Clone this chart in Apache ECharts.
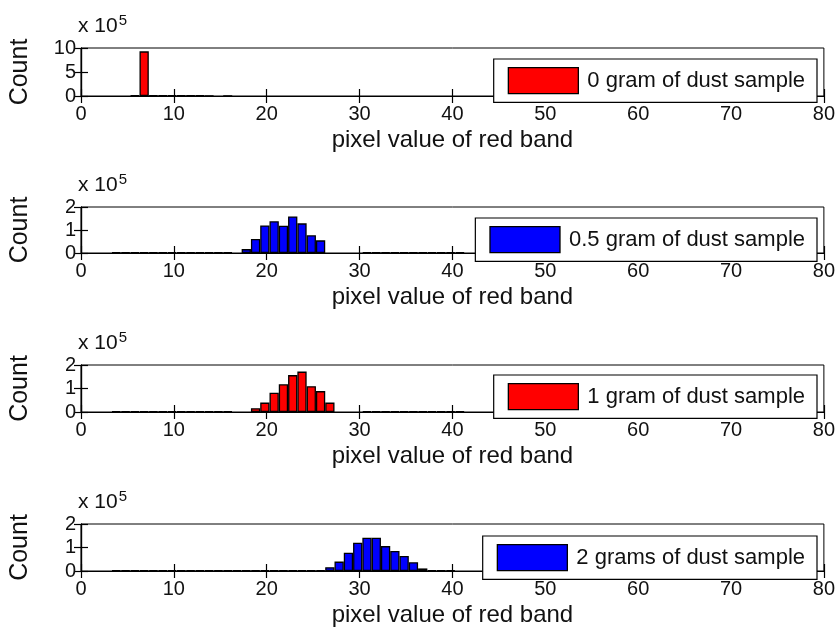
<!DOCTYPE html>
<html>
<head>
<meta charset="utf-8">
<script src="https://cdn.jsdelivr.net/npm/echarts@6/dist/echarts.min.js"></script>
<style>
  html, body { margin: 0; padding: 0; background: #fff; }
  #chart { width: 838px; height: 637px; }
</style>
</head>
<body>
<div id="chart"></div>
<script>
//--------------------- Data (counts in units of 10^5) ---------------------------//
const xTicks = { min: 0, max: 80, interval: 10 };

const names = [
  '0 gram of dust sample',
  '0.5 gram of dust sample',
  '1 gram of dust sample',
  '2 grams of dust sample'
];

// 0 gram
const bins0 = [5.8, 6.8, 7.8, 8.8, 9.8, 10.8, 11.8, 12.8, 13.8, 15.8];
const counts0 = [0.15, 9.3, 0.15, 0.12, 0.1, 0.12, 0.12, 0.1, 0.08, 0.06];

// 0.5 gram
const bins05 = [3.8, 4.8, 5.8, 6.8, 7.8, 8.8, 9.8, 10.8, 11.8, 12.8, 13.8, 14.8, 15.8,
  17.8, 18.8, 19.8, 20.8, 21.8, 22.8, 23.8, 24.8, 25.8,
  30.8, 31.8, 32.8, 33.8, 34.8, 35.8, 36.8, 37.8, 38.8, 39.8, 40.8];
const counts05 = [0.03, 0.03, 0.03, 0.03, 0.03, 0.03, 0.03, 0.03, 0.03, 0.03, 0.03, 0.03, 0.03,
  0.17, 0.61, 1.2, 1.38, 1.19, 1.59, 1.29, 0.77, 0.55,
  0.03, 0.03, 0.03, 0.03, 0.03, 0.03, 0.03, 0.03, 0.03, 0.03, 0.03];

// 1 gram
const bins1 = [3.8, 4.8, 5.8, 6.8, 7.8, 8.8, 9.8, 10.8, 11.8, 12.8, 13.8, 14.8, 15.8,
  18.8, 19.8, 20.8, 21.8, 22.8, 23.8, 24.8, 25.8, 26.8,
  30.8, 31.8, 32.8, 33.8, 34.8, 35.8, 36.8, 37.8, 38.8, 39.8, 40.8];
const counts1 = [0.03, 0.03, 0.03, 0.03, 0.03, 0.03, 0.03, 0.03, 0.03, 0.03, 0.03, 0.03, 0.03,
  0.16, 0.4, 0.82, 1.18, 1.57, 1.72, 1.1, 0.89, 0.4,
  0.03, 0.03, 0.03, 0.03, 0.03, 0.03, 0.03, 0.03, 0.03, 0.03, 0.03];

// 2 grams
const bins2 = [3.8, 4.8, 5.8, 6.8, 7.8, 8.8, 9.8, 10.8, 11.8, 12.8, 13.8, 14.8, 15.8,
  16.8, 17.8, 18.8, 19.8, 20.8, 21.8, 22.8, 23.8, 24.8, 25.8,
  26.8, 27.8, 28.8, 29.8, 30.8, 31.8, 32.8, 33.8, 34.8, 35.8, 36.8,
  37.8, 38.8, 39.8];
const counts2 = [0.03, 0.03, 0.03, 0.03, 0.03, 0.03, 0.03, 0.03, 0.03, 0.03, 0.03, 0.03, 0.03,
  0.03, 0.03, 0.03, 0.03, 0.03, 0.03, 0.03, 0.03, 0.03, 0.03,
  0.16, 0.4, 0.78, 1.2, 1.42, 1.42, 1.06, 0.85, 0.64, 0.37, 0.11,
  0.03, 0.03, 0.03];

const yMaxes = [10, 2, 2, 2];
const yIntervals = [5, 1, 1, 1];
const colors = ['#ff0000', '#0000ff', '#ff0000', '#0000ff'];

//--------------------- Layout ---------------------------//
const gridTops = [48, 207, 365, 524];
const gridHeights = [48, 46, 47, 47];
const legendTops = [59, 218, 375, 536];
const textColor = '#111';
const font = 'Arial, "Liberation Sans", sans-serif';

const panels = [
  { bins: bins0, counts: counts0 },
  { bins: bins05, counts: counts05 },
  { bins: bins1, counts: counts1 },
  { bins: bins2, counts: counts2 }
];

const option = {
  animation: false,
  backgroundColor: '#fff',
  textStyle: { fontFamily: font, color: textColor },
  grid: [], xAxis: [], yAxis: [], series: [], legend: [], title: []
};

panels.forEach((p, i) => {
  option.grid.push({
    left: 80, right: 13, top: gridTops[i], height: gridHeights[i],
    show: true, borderColor: '#000', borderWidth: 1, backgroundColor: '#fff'
  });

  const tick = { show: true, inside: true, length: 7, lineStyle: { color: '#000', width: 1.2 } };
  // bottom axis with labels
  option.xAxis.push({
    type: 'value', gridIndex: i, min: xTicks.min, max: xTicks.max, interval: xTicks.interval,
    axisLine: { show: true, lineStyle: { color: '#000', width: 1.2 } },
    axisTick: tick,
    axisLabel: { fontSize: 20, color: textColor, margin: 8, fontFamily: font },
    splitLine: { show: false },
    name: 'pixel value of red band', nameLocation: 'middle', nameGap: 32,
    nameTextStyle: { fontSize: 24, color: textColor, fontFamily: font }
  });
  // top axis, ticks only
  option.xAxis.push({
    type: 'value', gridIndex: i, position: 'top', min: xTicks.min, max: xTicks.max, interval: xTicks.interval,
    axisLine: { show: true, lineStyle: { color: '#000', width: 1.2 } },
    axisTick: tick, axisLabel: { show: false }, splitLine: { show: false }
  });
  option.yAxis.push({
    type: 'value', gridIndex: i, min: 0, max: yMaxes[i], interval: yIntervals[i],
    axisLine: { show: true, lineStyle: { color: '#000', width: 1.2 } },
    axisTick: tick,
    axisLabel: { fontSize: 20, color: textColor, margin: 5, fontFamily: font },
    splitLine: { show: false },
    name: 'Count', nameLocation: 'middle', nameGap: 48,
    nameTextStyle: { fontSize: 25, color: textColor, fontFamily: font }
  });
  option.yAxis.push({
    type: 'value', gridIndex: i, position: 'right', min: 0, max: yMaxes[i], interval: yIntervals[i],
    axisLine: { show: true, lineStyle: { color: '#000', width: 1.2 } },
    axisTick: tick, axisLabel: { show: false }, splitLine: { show: false }
  });

  option.series.push({
    type: 'bar', name: names[i],
    xAxisIndex: i * 2, yAxisIndex: i * 2,
    barWidth: 9.3,
    itemStyle: { color: colors[i], borderColor: '#000', borderWidth: 1.3 },
    data: p.bins.map((b, k) => [b, p.counts[k]])
  });

  option.legend.push({
    data: [names[i]],
    right: 21, top: legendTops[i],
    icon: 'rect', itemWidth: 70, itemHeight: 26,
    itemStyle: { borderColor: '#000', borderWidth: 1.3 },
    backgroundColor: '#fff', borderColor: '#000', borderWidth: 1.2, borderRadius: 0,
    padding: [8, 12, 8, 14],
    selectedMode: false,
    textStyle: { fontSize: 22, color: textColor, fontFamily: font, padding: [0, 0, 0, 4] }
  });

  option.title.push({
    text: 'x 10{s|5}',
    left: 78, top: gridTops[i] - 35,
    padding: 0,
    textStyle: {
      fontSize: 21, fontWeight: 'normal', color: textColor, fontFamily: font,
      rich: { s: { fontSize: 15, color: textColor, fontFamily: font, padding: [0, 0, 12, 1] } }
    }
  });
});

const myChart = echarts.init(document.getElementById('chart'));
myChart.setOption(option);
</script>
</body>
</html>
